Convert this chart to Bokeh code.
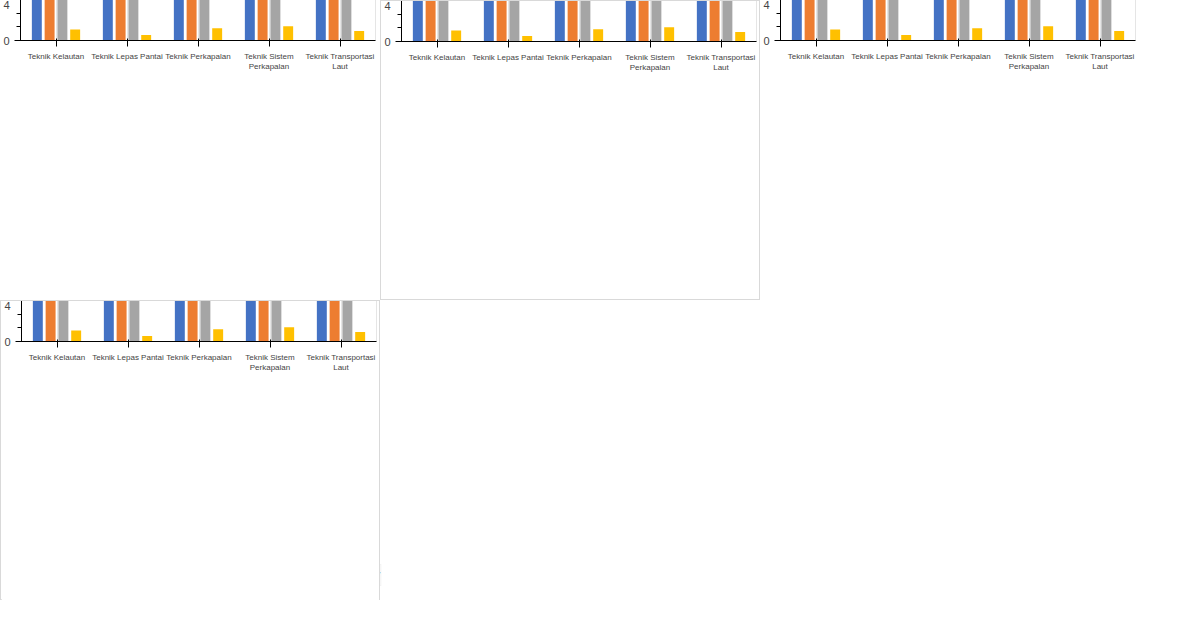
from bokeh.plotting import figure
from bokeh.models import (ColumnDataSource, FactorRange, FixedTicker, Legend, LegendItem,
                          LabelSet, Label, NumeralTickFormatter)
from bokeh.transform import dodge
from bokeh.layouts import row, column
from bokeh.embed import file_html
from bokeh.resources import INLINE

categories = ["Teknik Kelautan", "Teknik Lepas Pantai", "Teknik Perkapalan",
              "Teknik Sistem\nPerkapalan", "Teknik Transportasi\nLaut"]
ipd_rata = [3.65, 3.76, 3.54, 3.64, 3.69]
ipd_max = [3.99, 3.89, 3.90, 4.00, 3.97]
ipd_min = [3.18, 3.56, 2.81, 3.00, 3.53]
ipd_stdv = [0.16, 0.08, 0.18, 0.21, 0.14]
series_names = ["Average of ipd_rata", "ipd_max", "ipd_min", "ipd_stdv"]
y_ticks = [0, 0.5, 1.0, 1.5, 2.0, 2.5, 3.0, 3.5, 4.0, 4.5]

colors = ["#4472C4", "#ED7D31", "#A5A5A5", "#FFC000"]

def make(variant):
    src = ColumnDataSource(dict(cat=categories, rata=ipd_rata, mx=ipd_max, mn=ipd_min, sd=ipd_stdv,
                                rata_l=[f"{v:.2f}" for v in ipd_rata]))
    p = figure(x_range=FactorRange(*categories), y_range=(0, 4.5), width=380, height=300,
               output_backend="svg", toolbar_location=None, min_border_top=40)
    p.x_range.range_padding = 0
    rs = []
    for c, o, col in zip(["rata", "mx", "mn", "sd"], [-0.27, -0.09, 0.09, 0.27], colors):
        rs.append(p.vbar(x=dodge("cat", o, range=p.x_range), top=c, width=0.14, source=src,
                         fill_color=col, line_color=None))
    p.xaxis.major_label_text_font_size = "8px"
    if variant in ("legend", "all"):
        lg = Legend(items=[LegendItem(label=n, renderers=[r]) for n, r in zip(series_names, rs)],
                    orientation="horizontal", location="center", padding=0, margin=15)
        p.add_layout(lg, "below")
    if variant in ("styles", "all"):
        p.styles = {"border": "1px solid #d9d9d9"}
    if variant in ("label", "all"):
        p.add_layout(Label(x=100, y=250, x_units="screen", y_units="screen", text="TITLE"))
        p.add_layout(LabelSet(x=dodge("cat", -0.27, range=p.x_range), y="rata", text="rata_l",
                              source=src, y_offset=26))
    return p

lay = column(row(make("legend"), make("styles"), make("label")), row(make("all")))
open("out.html", "w").write(file_html(lay, INLINE))
